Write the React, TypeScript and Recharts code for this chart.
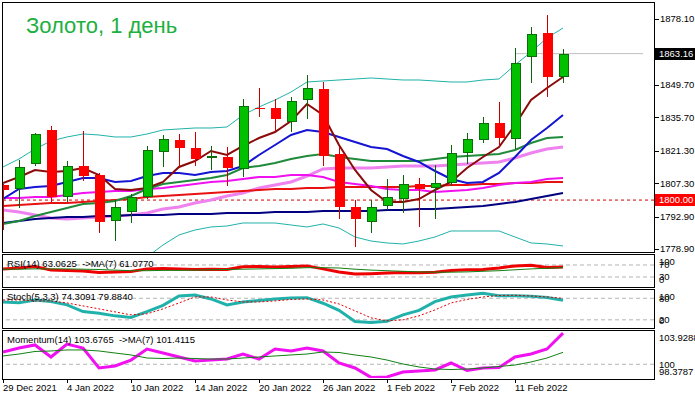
import React from "react";
import { ComposedChart, Line, Bar, XAxis, YAxis, ReferenceLine } from "recharts";

const FONT = "'Liberation Sans', Arial, sans-serif";

const dates = [
  "29 Dec 2021", "30 Dec 2021", "31 Dec 2021", "3 Jan 2022", "4 Jan 2022", "5 Jan 2022", "6 Jan 2022", "7 Jan 2022",
  "10 Jan 2022", "11 Jan 2022", "12 Jan 2022", "13 Jan 2022", "14 Jan 2022", "17 Jan 2022", "18 Jan 2022", "19 Jan 2022",
  "20 Jan 2022", "21 Jan 2022", "24 Jan 2022", "25 Jan 2022", "26 Jan 2022", "27 Jan 2022", "28 Jan 2022", "31 Jan 2022",
  "1 Feb 2022", "2 Feb 2022", "3 Feb 2022", "4 Feb 2022", "7 Feb 2022", "8 Feb 2022", "9 Feb 2022", "10 Feb 2022",
  "11 Feb 2022", "14 Feb 2022", "15 Feb 2022", "16 Feb 2022",
];
const emptySlots = ["e1", "e2", "e3", "e4", "e5"];
const xTickLabels = ["29 Dec 2021", "4 Jan 2022", "10 Jan 2022", "14 Jan 2022", "20 Jan 2022", "26 Jan 2022", "1 Feb 2022", "7 Feb 2022", "11 Feb 2022"];

const opens = [1806.50, 1804.78, 1815.56, 1830.23, 1801.33, 1814.70, 1810.81, 1790.98, 1794.86, 1801.33, 1820.74, 1825.91, 1822.46, 1818.15, 1818.58, 1813.40, 1839.71, 1839.71, 1833.67, 1843.16, 1847.91, 1819.87, 1797.02, 1790.55, 1797.45, 1800.46, 1806.93, 1805.21, 1807.36, 1820.30, 1825.91, 1833.24, 1826.34, 1861.71, 1872.06, 1853.08];
const highs = [1806.93, 1817.29, 1828.94, 1831.95, 1816.85, 1829.80, 1811.68, 1800.03, 1802.62, 1823.33, 1828.07, 1828.50, 1829.37, 1823.33, 1822.89, 1843.59, 1848.34, 1843.59, 1844.46, 1853.95, 1850.93, 1822.89, 1800.03, 1800.03, 1809.09, 1810.81, 1809.52, 1815.13, 1823.76, 1828.94, 1835.83, 1842.30, 1865.59, 1874.65, 1879.83, 1865.16];
const lows = [1787.09, 1796.58, 1814.70, 1799.17, 1799.17, 1808.23, 1785.80, 1782.35, 1790.12, 1800.46, 1814.26, 1814.26, 1814.70, 1812.97, 1806.07, 1809.95, 1835.83, 1829.37, 1829.37, 1834.97, 1814.70, 1791.84, 1779.76, 1785.80, 1795.72, 1794.43, 1788.39, 1791.84, 1806.07, 1815.56, 1824.62, 1822.89, 1822.03, 1850.50, 1844.46, 1850.50];
const closes = [1804.35, 1814.26, 1828.50, 1801.33, 1814.70, 1810.38, 1790.55, 1797.02, 1801.33, 1821.60, 1826.34, 1822.46, 1817.72, 1819.01, 1813.83, 1840.58, 1839.28, 1834.97, 1842.73, 1848.34, 1819.01, 1797.02, 1791.84, 1797.02, 1801.33, 1806.93, 1804.78, 1807.36, 1820.30, 1826.34, 1833.24, 1826.77, 1859.12, 1871.63, 1853.08, 1863.16];

const maMaroon = [1807.37, 1809.95, 1812.97, 1812.11, 1812.54, 1813.84, 1810.82, 1804.78, 1804.35, 1805.21, 1807.80, 1814.27, 1816.85, 1821.17, 1819.44, 1823.32, 1826.77, 1829.36, 1834.11, 1841.44, 1836.69, 1823.76, 1812.97, 1804.35, 1799.17, 1799.17, 1800.46, 1804.35, 1807.80, 1813.84, 1818.58, 1822.89, 1832.38, 1843.16, 1848.34, 1853.08];
const maBlue = [1800.46, 1804.78, 1805.64, 1806.07, 1807.80, 1809.52, 1809.52, 1807.80, 1808.23, 1810.38, 1811.68, 1811.68, 1810.82, 1812.11, 1812.54, 1814.70, 1819.44, 1823.76, 1828.07, 1830.23, 1829.36, 1827.21, 1825.05, 1822.89, 1822.03, 1819.01, 1816.42, 1812.54, 1809.09, 1807.37, 1807.80, 1811.68, 1818.58, 1825.91, 1831.09, 1836.69];
const bbMid = [1789.68, 1790.98, 1793.13, 1794.86, 1796.58, 1798.31, 1798.74, 1799.60, 1801.76, 1804.78, 1806.93, 1807.80, 1808.66, 1809.52, 1810.82, 1813.84, 1814.70, 1815.99, 1817.72, 1819.01, 1819.87, 1818.58, 1817.72, 1816.85, 1816.85, 1816.85, 1816.85, 1817.72, 1818.58, 1819.01, 1819.44, 1819.87, 1821.60, 1824.62, 1826.77, 1827.21];
const maMagenta = [1800.90, 1800.90, 1801.33, 1801.33, 1802.19, 1803.05, 1803.48, 1803.92, 1803.92, 1804.78, 1805.21, 1806.07, 1806.93, 1807.80, 1808.23, 1809.09, 1809.95, 1809.95, 1810.82, 1810.82, 1809.95, 1807.80, 1806.93, 1806.07, 1804.78, 1804.35, 1804.35, 1803.48, 1803.92, 1804.35, 1805.21, 1806.50, 1807.37, 1807.80, 1809.09, 1809.52];
const maRed = [1797.45, 1797.88, 1798.31, 1798.74, 1798.74, 1799.17, 1799.60, 1800.03, 1800.46, 1801.33, 1801.76, 1802.19, 1802.62, 1803.05, 1803.48, 1803.92, 1804.35, 1804.78, 1804.78, 1805.21, 1805.21, 1805.64, 1805.64, 1805.64, 1805.64, 1805.64, 1806.07, 1806.07, 1806.50, 1806.50, 1806.93, 1806.93, 1807.37, 1807.37, 1807.80, 1807.80];
const maPlum = [1795.72, 1794.86, 1793.56, 1792.27, 1791.84, 1792.27, 1792.70, 1793.13, 1793.56, 1794.43, 1796.15, 1797.01, 1798.74, 1800.03, 1801.76, 1803.05, 1805.21, 1806.50, 1807.80, 1810.38, 1813.40, 1813.84, 1813.84, 1813.84, 1814.27, 1814.70, 1814.70, 1814.70, 1815.13, 1815.56, 1815.99, 1816.42, 1818.15, 1820.31, 1822.03, 1822.89];
const maNavy = [1790.11, 1790.98, 1791.84, 1792.27, 1792.70, 1792.70, 1793.13, 1793.13, 1793.56, 1793.56, 1793.56, 1793.99, 1793.99, 1793.99, 1794.43, 1794.43, 1794.43, 1794.86, 1794.86, 1794.86, 1795.29, 1795.29, 1795.29, 1795.29, 1795.72, 1795.72, 1796.15, 1796.15, 1796.58, 1797.01, 1797.45, 1798.31, 1799.17, 1800.46, 1801.76, 1803.05];
const bbUpper = [1814.27, 1817.72, 1822.03, 1825.48, 1827.21, 1828.50, 1828.07, 1827.21, 1827.21, 1828.50, 1830.23, 1830.66, 1831.09, 1831.09, 1831.52, 1836.69, 1840.15, 1843.16, 1846.61, 1850.93, 1851.36, 1851.79, 1852.22, 1852.65, 1852.22, 1851.79, 1851.79, 1851.36, 1850.93, 1850.93, 1851.79, 1852.22, 1858.26, 1863.87, 1869.91, 1874.22];
const bbLower = [1765.10, 1764.23, 1764.23, 1764.23, 1765.96, 1768.12, 1769.41, 1771.57, 1774.15, 1775.45, 1780.62, 1784.94, 1787.09, 1788.39, 1788.82, 1790.11, 1790.11, 1790.11, 1789.25, 1788.39, 1789.68, 1787.96, 1784.08, 1782.35, 1781.49, 1781.06, 1782.35, 1784.08, 1786.66, 1786.66, 1786.66, 1786.66, 1784.08, 1781.49, 1781.06, 1780.19];

const currentPrice = 1863.16;
const bidStart = 32;
const supportLevel = 1800;
const priceTicks = [1778.9, 1792.9, 1800, 1807.3, 1821.3, 1835.7, 1849.7, 1863.16, 1878.1];

const rsi = [57, 60, 65, 53, 52, 50, 45, 47, 48, 57, 58, 57, 55, 56, 55, 64, 65, 63, 65, 67, 57, 47, 40, 41, 43, 45, 44, 46, 52, 54, 55, 60, 67, 69, 62, 63.0625];
const rsiMa = [56, 56, 57, 57, 57, 56, 55, 53, 51, 51, 52, 52, 53, 54, 55, 56, 57, 58, 59, 61, 61, 60, 56, 53, 51, 49, 47, 46, 46, 47, 49, 51, 54, 57, 59, 61.077];
const rsiTicks = [0, 30, 70, 100];

const stochMain = [69.8, 67.8, 75.3, 71.2, 61.5, 43, 38.5, 31, 26.4, 43, 60.1, 86.4, 89.1, 78.1, 61.5, 69.8, 73.9, 78.1, 80.8, 81.7, 66.2, 46.3, 15.3, 12.5, 15.9, 33.8, 46.3, 70.6, 83.6, 89.1, 93.8, 87.2, 87.2, 85.8, 82.2, 74.3091];
const stochSignal = [75.3, 75.3, 72.5, 72.5, 67, 58.7, 50.4, 42.1, 33.8, 36.6, 50.4, 67, 83.6, 83.6, 75.3, 69.8, 69.8, 72.5, 76.7, 78.1, 75.3, 64.2, 44.9, 25.5, 17.2, 19.9, 31, 47.6, 67, 76.7, 83.6, 87.7, 88.3, 86.4, 83.6, 79.884];
const stochTicks = [0, 20, 80, 100];

const momentum = [101.45, 101.92, 102.28, 100.86, 102.39, 101.92, 99.56, 99.80, 100.50, 101.80, 101.33, 100.86, 100.39, 100.50, 100.62, 101.21, 100.62, 101.80, 101.57, 101.92, 101.57, 100.15, 99.56, 98.45, 98.50, 99.09, 99.21, 99.33, 100.15, 99.27, 99.56, 99.62, 100.86, 101.21, 101.80, 103.6765];
const momentumMa = [100.98, 101.21, 101.51, 101.57, 101.69, 101.69, 101.57, 101.33, 101.10, 100.74, 100.68, 100.74, 100.68, 100.62, 100.62, 100.74, 100.86, 100.98, 101.10, 101.21, 101.45, 101.39, 101.10, 100.86, 100.50, 100.03, 99.68, 99.44, 99.38, 99.44, 99.56, 99.74, 99.91, 100.27, 100.74, 101.4115];
const momentumTicks = [98.3787, 100, 103.9288];

const mainData: any[] = dates
  .map((d, i) => ({
    d,
    open: opens[i], high: highs[i], low: lows[i], close: closes[i],
    range: [lows[i], highs[i]],
    maroon: maMaroon[i], blue: maBlue[i], mid: bbMid[i], magenta: maMagenta[i],
    red: maRed[i], plum: maPlum[i], navy: maNavy[i], up: bbUpper[i], lo: bbLower[i],
    bid: i >= bidStart ? currentPrice : undefined,
  }))
  .concat(emptySlots.map((d) => ({ d, bid: currentPrice } as any)));

const subData: any[] = dates
  .map((d, i) => ({ d, rsi: rsi[i], rsiMa: rsiMa[i], st: stochMain[i], sig: stochSignal[i], mom: momentum[i], momMa: momentumMa[i] }))
  .concat(emptySlots.map((d) => ({ d } as any)));

function Candle(props: any) {
  const { x, y, width, height } = props;
  const p = props.payload || props;
  if (!p || p.open == null || !isFinite(y) || !isFinite(height)) return null;
  const { open, close, high, low } = p;
  const top = Math.min(y, y + height);
  const h = Math.abs(height);
  const k = high - low > 0 ? h / (high - low) : 0;
  const yOf = (v: number) => top + (high - v) * k;
  const cx = Math.round(x + width / 2);
  const bull = close >= open;
  const t = Math.round(yOf(Math.max(open, close)));
  const b = Math.max(Math.round(yOf(Math.min(open, close))), t + 1);
  return (
    <g>
      <line x1={cx + 0.5} x2={cx + 0.5} y1={yOf(high)} y2={yOf(low)} stroke={bull ? "#0A640A" : "#C80000"} strokeWidth={1} />
      {bull ? (
        <rect x={cx - 4 + 0.5} y={t + 0.5} width={9} height={Math.max(b - t - 1, 0.5)} fill="#00C000" stroke="#0A6E0A" strokeWidth={1} />
      ) : (
        <rect x={cx - 4} y={t} width={10} height={b - t} fill="#FF0000" />
      )}
    </g>
  );
}

function PriceTick(props: any) {
  const { x, y, payload } = props;
  const v = payload.value;
  const label = Number(v).toFixed(2);
  if (v === currentPrice || v === supportLevel) {
    const bg = v === currentPrice ? "#000000" : "#FF0000";
    return (
      <g>
        <rect x={x + 1} y={Math.round(y) - 6} width={41} height={12} fill={bg} />
        <text x={x + 5} y={y + 3.4} fill="#FFFFFF" fontSize={9.5} fontFamily={FONT}>{label}</text>
      </g>
    );
  }
  return (
    <g>
      <line x1={x + 1} x2={x + 5} y1={Math.round(y) + 0.5} y2={Math.round(y) + 0.5} stroke="#000" strokeWidth={1} />
      <text x={x + 6} y={y + 3.4} fill="#000" fontSize={9.5} fontFamily={FONT}>{label}</text>
    </g>
  );
}

const makeLevelTick = (h: number, fmt: (v: number) => string) => (props: any) => {
  const { x, y, payload } = props;
  const yy = Math.min(Math.max(y, 7), h - 6);
  return (
    <text x={x + 5} y={yy + 3.4} fontSize={9.5} fontFamily={FONT} fill="#000">{fmt(payload.value)}</text>
  );
};

function DateTick(props: any) {
  const { x, y, payload } = props;
  if (!xTickLabels.includes(payload.value)) return <g />;
  const cx = Math.round(x);
  return (
    <g>
      <line x1={cx + 0.5} x2={cx + 0.5} y1={y + 1} y2={y + 5} stroke="#000" strokeWidth={1} />
      <text x={cx} y={y + 13} fontSize={9.5} fontFamily={FONT} fill="#000">{payload.value}</text>
    </g>
  );
}

const Panel = ({ top, height, children }: any) => (
  <div style={{ position: "absolute", left: 3, top, width: 692, height, overflow: "hidden" }}>
    <div style={{ position: "absolute", left: -8, top: 0 }}>{children}</div>
  </div>
);

const M = { top: 0, right: 0, bottom: 0, left: 0 };
const XPAD = { left: 0, right: 3 };
const lvl = { stroke: "#B4B4B4", strokeDasharray: "4 3", strokeWidth: 1 };

export default function App() {
  const rsiH = 31, stH = 37, momH = 47;
  return (
    <div style={{ position: "absolute", left: 0, top: 0, width: 695, height: 394, background: "#FFFFFF", overflow: "hidden", fontFamily: FONT }}>
      <Panel top={2} height={256}>
        <ComposedChart width={700} height={256} data={mainData} margin={{ top: 0, right: 0, bottom: 6, left: 0 }} barCategoryGap={0} barGap={0}>
          <XAxis dataKey="d" hide padding={XPAD} scale="band" />
          <YAxis orientation="right" width={41} domain={[1777.6, 1885.43]} ticks={priceTicks} interval={0} allowDataOverflow
            axisLine={false} tickLine={false} tickSize={0} tickMargin={0} tick={<PriceTick />} />
          <ReferenceLine y={supportLevel} stroke="#D00000" strokeDasharray="3 3" strokeWidth={1} />
          <Line dataKey="up" stroke="#20B2AA" strokeWidth={1} dot={false} activeDot={false} isAnimationActive={false} />
          <Line dataKey="lo" stroke="#20B2AA" strokeWidth={1} dot={false} activeDot={false} isAnimationActive={false} />
          <Line dataKey="plum" stroke="#EE82EE" strokeWidth={3} dot={false} activeDot={false} isAnimationActive={false} />
          <Line dataKey="navy" stroke="#000080" strokeWidth={2} dot={false} activeDot={false} isAnimationActive={false} />
          <Line dataKey="red" stroke="#E81010" strokeWidth={2} dot={false} activeDot={false} isAnimationActive={false} />
          <Line dataKey="magenta" stroke="#F010F0" strokeWidth={2} dot={false} activeDot={false} isAnimationActive={false} />
          <Line dataKey="mid" stroke="#1F8B3A" strokeWidth={2} dot={false} activeDot={false} isAnimationActive={false} />
          <Line dataKey="blue" stroke="#1414D2" strokeWidth={2} dot={false} activeDot={false} isAnimationActive={false} />
          <Line dataKey="maroon" stroke="#8B0A0A" strokeWidth={2} dot={false} activeDot={false} isAnimationActive={false} />
          <Line dataKey="bid" stroke="#C0C0C0" strokeWidth={1} dot={false} activeDot={false} isAnimationActive={false} />
          <Bar dataKey="range" shape={<Candle />} isAnimationActive={false} {...({ zIndex: 450 } as any)} />
        </ComposedChart>
      </Panel>

      <Panel top={255} height={rsiH}>
        <ComposedChart width={700} height={rsiH} data={subData} margin={M}>
          <XAxis dataKey="d" hide padding={XPAD} scale="band" />
          <YAxis orientation="right" width={41} domain={[0, 103.3]} ticks={rsiTicks} interval={0} allowDataOverflow
            axisLine={false} tickLine={false} tickSize={0} tickMargin={0} tick={makeLevelTick(rsiH, (v) => String(v))} />
          <ReferenceLine y={70} {...lvl} />
          <ReferenceLine y={30} {...lvl} />
          <Line dataKey="rsi" stroke="#EE0000" strokeWidth={3} dot={false} activeDot={false} isAnimationActive={false} />
          <Line dataKey="rsiMa" stroke="#128012" strokeWidth={1} dot={false} activeDot={false} isAnimationActive={false} />
        </ComposedChart>
      </Panel>

      <Panel top={290} height={stH}>
        <ComposedChart width={700} height={stH} data={subData} margin={M}>
          <XAxis dataKey="d" hide padding={XPAD} scale="band" />
          <YAxis orientation="right" width={41} domain={[0, 103]} ticks={stochTicks} interval={0} allowDataOverflow
            axisLine={false} tickLine={false} tickSize={0} tickMargin={0} tick={makeLevelTick(stH, (v) => String(v))} />
          <ReferenceLine y={80} {...lvl} />
          <ReferenceLine y={20} {...lvl} />
          <Line dataKey="st" stroke="#20B2AA" strokeWidth={3} dot={false} activeDot={false} isAnimationActive={false} />
          <Line dataKey="sig" stroke="#E00000" strokeWidth={1} strokeDasharray="2 2" dot={false} activeDot={false} isAnimationActive={false} />
        </ComposedChart>
      </Panel>

      <Panel top={331} height={momH + 16}>
        <ComposedChart width={700} height={momH + 16} data={subData} margin={M}>
          <XAxis dataKey="d" height={16} padding={XPAD} scale="band" interval={0} axisLine={false} tickLine={false} tickSize={0} tickMargin={0} tick={DateTick} />
          <YAxis orientation="right" width={41} domain={[98.3787, 103.9288]} ticks={momentumTicks} interval={0} allowDataOverflow
            axisLine={false} tickLine={false} tickSize={0} tickMargin={0}
            tick={makeLevelTick(momH, (v) => (v === 100 ? "100" : v.toFixed(4)))} />
          <ReferenceLine y={100} {...lvl} />
          <Line dataKey="mom" stroke="#F010F0" strokeWidth={3} dot={false} activeDot={false} isAnimationActive={false} />
          <Line dataKey="momMa" stroke="#128012" strokeWidth={1} dot={false} activeDot={false} isAnimationActive={false} />
        </ComposedChart>
      </Panel>

      <svg width={695} height={394} style={{ position: "absolute", left: 0, top: 0, pointerEvents: "none" }}>
        <rect x={2.5} y={2.5} width={652} height={250} fill="none" stroke="#000" strokeWidth={1} />
        <rect x={2.5} y={254.5} width={652} height={33} fill="none" stroke="#000" strokeWidth={1} />
        <rect x={2.5} y={289.5} width={652} height={39} fill="none" stroke="#000" strokeWidth={1} />
        <rect x={2.5} y={330.5} width={652} height={49} fill="none" stroke="#000" strokeWidth={1} />
        <text x={26} y={33} fontSize={22} fontFamily={FONT} fill="#20B040">Золото, 1 день</text>
        <text x={7} y={267} fontSize={9.5} fontFamily={FONT} fill="#000" style={{ whiteSpace: "pre" }}>{"RSI(14) 63.0625  ->MA(7) 61.0770"}</text>
        <text x={7} y={300} fontSize={9.5} fontFamily={FONT} fill="#000" style={{ whiteSpace: "pre" }}>{"Stoch(5,3,3) 74.3091 79.8840"}</text>
        <text x={7} y={343} fontSize={9.5} fontFamily={FONT} fill="#000" style={{ whiteSpace: "pre" }}>{"Momentum(14) 103.6765  ->MA(7) 101.4115"}</text>
      </svg>
    </div>
  );
}
